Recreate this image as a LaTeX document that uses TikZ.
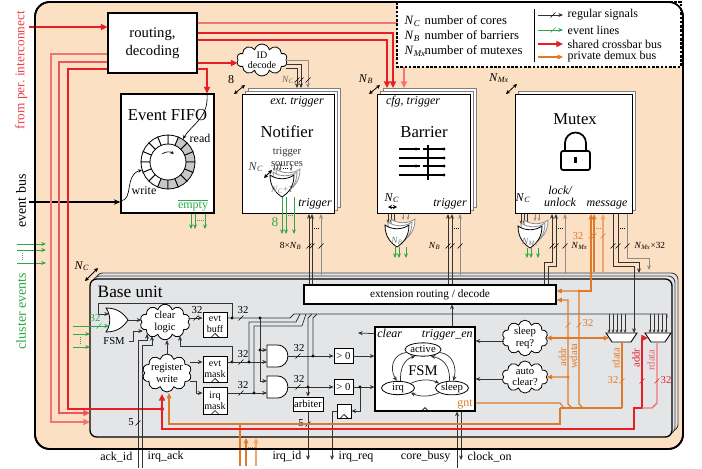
\documentclass[tikz,border=0pt]{standalone}
\usepackage{fontspec}
\setmainfont{Liberation Serif}
\usetikzlibrary{positioning,arrows.meta,shapes.symbols,shapes.geometric}

\definecolor{peach}{RGB}{252,224,196}
\definecolor{bgray}{RGB}{228,229,231}
\definecolor{xred}{RGB}{232,30,38}
\definecolor{xredl}{RGB}{242,118,112}
\definecolor{evgreen}{RGB}{46,168,70}
\definecolor{dorange}{RGB}{224,122,40}
\definecolor{dorangel}{RGB}{238,165,110}

\newcommand{\Nx}[1]{\textit{N}\textsubscript{\textit{#1}}}

\tikzset{
  ft7/.style={font=\fontsize{7}{7.5}\selectfont},
  ft8/.style={font=\fontsize{8}{8.5}\selectfont},
  ft9/.style={font=\fontsize{9}{10}\selectfont},
  ft11/.style={font=\fontsize{11}{13.5}\selectfont},
  ft12/.style={font=\fontsize{12.5}{13}\selectfont},
  itl/.style={font=\fontsize{9}{9.5}\selectfont\itshape},
  orgate/.pic={
    \draw[fill=white, line width=0.6pt] (-10,-12) .. controls (-5,-5) and (-5,5) .. (-10,12)
      .. controls (2,12) and (8,6) .. (12,0) .. controls (8,-6) and (2,-12) .. (-10,-12) -- cycle;
    \coordinate (-in1) at (-7,-6);
    \coordinate (-in2) at (-7,6);
    \coordinate (-out) at (12,0);
  },
  andgate/.pic={
    \draw[fill=white, line width=0.6pt] (-10,-11) -- (0,-11) .. controls (14.5,-11) and (14.5,11) .. (0,11) -- (-10,11) -- cycle;
    \coordinate (-in1) at (-10,-6);
    \coordinate (-in2) at (-10,6);
    \coordinate (-out) at (11,0);
  },
  clk/.pic={\draw[line width=0.5pt] (-4,0) -- (0,-4) -- (4,0);},
  slsh/.pic={\draw[line width=0.45pt] (-2.5,2.5) -- (2.5,-2.5);},
}

\begin{document}
\begin{tikzpicture}[x=0.75pt,y=-0.75pt,
  box/.style={draw, fill=white, line width=0.8pt, inner sep=0pt},
  backbox/.style={draw=black!50, fill=white, line width=0.7pt},
  sig/.style={draw=black!80, line width=0.55pt, -{Stealth[length=3.5pt,width=3pt]}},
  gsig/.style={sig, draw=black!45},
  wire/.style={draw=black!80, line width=0.55pt},
  evl/.style={draw=evgreen, line width=0.75pt, -{Stealth[length=3.5pt,width=3pt]}},
  xbus/.style={draw=xred, line width=1.3pt, -{Triangle[length=5pt,width=4.5pt]}},
  xbusl/.style={xbus, draw=xredl},
  dbus/.style={draw=dorange, line width=0.85pt, -{Triangle[length=4pt,width=3.5pt]}},
  dwire/.style={draw=dorange, line width=0.85pt},
  cld/.style={cloud, cloud puffs=10, cloud ignores aspect, draw, fill=white, line width=0.6pt, inner sep=0pt, align=center, ft8},
  ellst/.style={ellipse, draw, fill=white, inner sep=0pt, line width=0.6pt, ft8},
  dblarr/.style={line width=0.6pt, {Stealth[length=3pt,width=3pt]}-{Stealth[length=3pt,width=3pt]}},
  tip/.style={-{Stealth[length=2.5pt,width=2pt]}},
]
\useasboundingbox (0,0) rectangle (702,468);

% outer frame
\draw[line width=1.3pt, fill=peach, rounded corners=11pt] (35,2) rectangle (683,449);

% side labels
\node[rotate=90, text=xred!85, font=\fontsize{10}{10}\selectfont] (perlbl) at (21,70) {from per.\ interconnect};
\node[rotate=90, font=\fontsize{10.5}{10.5}\selectfont] (evblbl) at (21,201) {event bus};
\node[rotate=90, text=evgreen, font=\fontsize{10.5}{10.5}\selectfont] (clulbl) at (21,311) {cluster events};
\foreach \yy in {244,250,263} \draw[evl] (17,\yy) -- (46,\yy);
\draw[evgreen, densely dotted, line width=0.6pt] (22,253) -- (22,260);

% routing and event FIFO
\node[box, minimum width=66.75pt, minimum height=45pt, ft11, align=center] (route) at (152.5,43) {routing,\\decoding};
\node[cld, minimum width=38pt, minimum height=21pt, font=\fontsize{7.5}{7.5}\selectfont] (idd) at (262,60) {ID\\decode};
\draw[xbus] (29,27) -- (route.west |- 0,27);
\draw[xbusl] (route.east |- 0,23) -| (404,88);
\draw[xbus] (route.east |- 0,33) -| (393,88);
\draw[xbus] (route.east |- 0,40) -| (387,88);
\draw[xbus] (route.east |- 0,63) -- (idd.west |- 0,63);

\node[box, minimum width=69.75pt, minimum height=89.25pt] (fifo) at (167.5,153.5) {};
\node[ft12] (fifottl) at (167.5,115) {Event FIFO};
\begin{scope}[shift={(168,162)}, yscale=-1]
  \foreach \a in {0,...,15}{
    \pgfmathsetmacro\sa{\a*22.5}
    \pgfmathsetmacro\ea{\sa+22.5}
    \pgfmathtruncatemacro\ga{((\sa+11.25)<75 || (\sa+11.25)>245) ? 1 : 0}
    \ifnum\ga=1 \def\fc{black!22}\else\def\fc{white}\fi
    \draw[fill=\fc, line width=0.6pt] (\sa:18) arc[start angle=\sa, end angle=\ea, radius=18]
      -- (\ea:27) arc[start angle=\ea, end angle=\sa, radius=27] -- cycle;
  }
  \draw[line width=0.5pt, -{Stealth[length=2.5pt,width=2.5pt]}] (125:10) arc[start angle=125, end angle=55, radius=10];
\end{scope}
\draw[xbus] (route.east |- 0,69) -| (fifo.north -| 207,0);
\draw[line width=0.5pt, -{Stealth[length=3pt,width=2.5pt]}] (fifo.north -| 207,0) .. controls (209,118) and (192,124) .. (183,139);
\node[ft9] (rdlbl) at (200,138) {read};
\draw[line width=1pt, -{Stealth[length=5pt,width=4pt]}] (29,202) -- (fifo.west |- 0,202);
\draw[line width=0.5pt, -{Stealth[length=3pt,width=2.5pt]}] (fifo.west |- 0,201) .. controls (134,200) and (124,175) .. (142,170);
\node[ft9] (wrlbl) at (144,191) {write};
\node[ft9, text=evgreen] (emlbl) at (193,205) {$\overline{\mbox{empty}}$};
\foreach \xx in {191,195,205} \draw[evl, line width=0.5pt] (fifo.south -| \xx,0) -- (\xx,229);
\draw[evgreen, densely dotted, line width=0.5pt] (197,220) -- (204,220);

% notifier
\draw[backbox] (248,88) rectangle (340,207);
\draw[backbox] (245,91) rectangle (337,210);
\node[box, anchor=north west, minimum width=69pt, minimum height=89.25pt] (notif) at (242,94) {};
\node[itl] (ntext) at (297,102) {ext.\ trigger};
\node[ft12] (nttl) at (287,132) {Notifier};
\node[ft8, align=center, text=black!80] (nsrc) at (287,157) {trigger\\sources};
\node[itl] (ntrg) at (315,204) {trigger};
\foreach \xx in {274,277,280,291} \draw[gsig, draw=black!60, tip] (\xx,164) -- (\xx,171);
\draw[densely dotted] (283,168) -- (288,168);
\pic[color=black!45, rotate=-90] at (288,179) {orgate};
\pic[color=black!45, rotate=-90] at (285,182) {orgate};
\pic[rotate=-90] (ngate) at (282,185) {orgate};
\node[ft7, text=black!50] (ngl) at (282,190) {\Nx{C}+1};
\node[ft9, text=black!75] (nncl) at (256,167) {\Nx{C}};
\draw[dblarr] (264,178) -- (272,170);
\foreach \xx in {282,286,294} \draw[evl] (\xx,197) -- (\xx,234);
\draw[evgreen, densely dotted] (288,215) -- (292,215);
\node[font=\fontsize{10}{10}\selectfont, text=evgreen] (n8) at (275,222) {8};
\draw[sig] (idd.east |- 0,64) -| (301,88);
\draw[sig] (idd.east |- 0,68) -| (297,88);
\draw[gsig] (idd.east |- 0,60) -| (308,88);
\node[ft7, text=black!60] (idnc) at (288,80) {\Nx{C}};
\foreach \xx in {297,301,308} \pic at (\xx,80) {slsh};

% barrier
\draw[backbox] (383,88) rectangle (476,207);
\draw[backbox] (380,91) rectangle (473,210);
\node[box, anchor=north west, minimum width=69.75pt, minimum height=89.25pt] (barr) at (377,94) {};
\node[itl] (bcfg) at (413,102) {cfg, trigger};
\node[ft12] (bttl) at (424,132) {Barrier};
\node[itl] (btrg) at (450,204) {trigger};
\node[ft9] (bncl) at (392,198) {\Nx{C}};
\draw[dblarr, line width=0.4pt] (388,207) -- (397,207);
\draw[line width=0.8pt] (399,149) -- (416,149) (428,149) -- (444,149);
\draw[line width=0.8pt, densely dashed] (416,149) -- (428,149);
\draw[line width=0.8pt] (399,158) -- (444,158);
\draw[line width=0.8pt] (399,166) -- (416,166) (428,166) -- (444,166);
\draw[line width=0.8pt, densely dashed] (416,166) -- (428,166);
\draw[line width=0.8pt] (399,175) -- (444,175);
\draw[line width=2.2pt] (428,145) -- (428,180);
\foreach \yy in {149,158,166,175} \fill (444,\yy) circle (1.6);
\fill (416,149) circle (1.6) (416,166) circle (1.6) (428,158) circle (1.6) (428,175) circle (1.6);
\foreach \xx in {388,391,394} \draw[sig, tip] (barr.south -| \xx,0) -- (\xx,223);
\foreach \xx in {403,408} \draw[gsig, tip] (barr.south -| \xx,0) -- (\xx,220);
\pic[color=black!45, rotate=-90] at (403,229) {orgate};
\pic[color=black!45, rotate=-90] at (400,232) {orgate};
\pic[rotate=-90] (bgate) at (397,235) {orgate};
\node[ft7, text=black!55] (bgl) at (397,241) {\Nx{B}};
\foreach \xx in {395,399,406} \draw[evl, line width=0.6pt] (\xx,247) -- (\xx,258);

% mutex
\draw[backbox] (518,91) rectangle (635,210);
\node[box, anchor=north west, minimum width=87.75pt, minimum height=89.25pt] (mutx) at (515,94) {};
\node[ft12] (mttl) at (575,119) {Mutex};
\draw[line width=1.3pt, rounded corners=1.5pt] (561,151) rectangle (590,170);
\draw[line width=1.3pt] (565,151) -- (565,143) arc[start angle=180, end angle=360, radius=10.5] -- (586,151);
\draw[line width=1.6pt] (575.5,157) -- (575.5,163);
\node[ft9] (mncl) at (523,198) {\Nx{C}};
\node[align=center, font=\fontsize{9}{9}\selectfont\itshape] (mlck) at (560,196) {lock/\\unlock};
\node[itl] (mmsg) at (607,205) {message};
\foreach \xx in {521,524,527} \draw[sig, tip] (mutx.south -| \xx,0) -- (\xx,224);
\foreach \xx in {535,539} \draw[gsig, tip] (mutx.south -| \xx,0) -- (\xx,221);
\pic[color=black!45, rotate=-90] at (536,230) {orgate};
\pic[color=black!45, rotate=-90] at (533,233) {orgate};
\pic[rotate=-90] (mgate) at (530,236) {orgate};
\node[ft7, text=black!55] (mgl) at (530,242) {\Nx{Mx}};
\foreach \xx in {527,531,538} \draw[evl, line width=0.6pt] (\xx,248) -- (\xx,258);

% stack counts
\node[ft9] (s8) at (231,80) {8};
\draw[dblarr] (234,94) -- (245,85);
\node[ft9] (snb) at (366,79) {\Nx{B}};
\draw[dblarr] (369,94) -- (380,85);
\node[ft9] (snm) at (499,78) {\Nx{Mx}};
\draw[dblarr] (506,94) -- (517,84);
\node[ft9] (snc) at (82,266) {\Nx{C}};
\draw[dblarr] (85,281) -- (98,268);

% base unit
\draw[draw=black!75, fill=bgray, line width=0.7pt, rounded corners=5pt] (96,273) rectangle (678,431);
\draw[draw=black!75, fill=bgray, line width=0.7pt, rounded corners=5pt] (93,276) rectangle (675,434);
\draw[line width=1pt, fill=bgray, rounded corners=5pt] (90,279) rectangle (672,437);
\node[anchor=west, font=\fontsize{13}{13}\selectfont] (bulbl) at (93,292) {Base unit};
\node[box, minimum width=189pt, minimum height=14.25pt, font=\fontsize{8.5}{8.5}\selectfont] (extb) at (430,294.5) {extension routing / decode};

% extension lines
\draw[sig] (extb.north -| 309,0) -- (notif.south -| 309,0);
\draw[sig] (extb.north -| 312,0) -- (notif.south -| 312,0);
\draw[gsig] (321,275) -- (notif.south -| 321,0);
\draw[densely dotted] (314,228) -- (319,228);
\foreach \xx in {309,312,321} \pic at (\xx,246) {slsh};
\node[ft7, anchor=east] (n8nb) at (306,246) {8×\Nx{B}};
\draw[sig] (extb.north -| 448,0) -- (barr.south -| 448,0);
\draw[sig] (extb.north -| 452,0) -- (barr.south -| 452,0);
\draw[gsig] (460,275) -- (barr.south -| 460,0);
\draw[densely dotted] (454,228) -- (458,228);
\foreach \xx in {448,452,460} \pic at (\xx,246) {slsh};
\node[ft7, anchor=east] (nnb) at (445,246) {\Nx{B}};
\draw[sig] (extb.north -| 544,0) |- (552,262) -- (mutx.south -| 552,0);
\draw[sig] (extb.north -| 548,0) |- (556,266) -- (mutx.south -| 556,0);
\draw[gsig] (565,274) -- (mutx.south -| 565,0);
\draw[densely dotted] (558,228) -- (563,228);
\foreach \xx in {552,556,565} \pic at (\xx,246) {slsh};
\node[ft7, anchor=west] (nnm) at (567,246) {\Nx{Mx}};
\draw[sig] (mutx.south -| 613,0) |- (634,266) -- (634,333);
\draw[sig] (mutx.south -| 618,0) |- (639,262) -- (639,273);
\draw[gsig] (mutx.south -| 627,0) |- (649,258) -- (649,270);
\draw[densely dotted] (620,228) -- (625,228);
\foreach \xx in {613,618,627} \pic at (\xx,246) {slsh};
\node[ft7, anchor=west] (nnm32) at (630,246) {\Nx{Mx}×32};
\draw[dbus] (594,272) -- (mutx.south -| 594,0);
\draw[dbus, draw=dorangel] (603,272) -- (mutx.south -| 603,0);
\draw[dorange, densely dotted] (596,228) -- (601,228);
\foreach \xx in {591,594,603} \pic[dorange] at (\xx,236) {slsh};
\node[ft8, text=dorange, anchor=east] (m32) at (588,236) {32};

% base unit internals
\pic (ogt) at (116,320) {orgate};
\pic (and1) at (277,356) {andgate};
\pic (and2) at (277,387) {andgate};
\node[cld, minimum width=37.5pt, minimum height=24pt] (clr) at (165,322) {clear\\logic};
\node[cld, minimum width=34.5pt, minimum height=28.5pt] (regw) at (167,373) {register\\write};
\node[box, minimum width=18pt, minimum height=18.75pt, line width=0.7pt, align=center, font=\fontsize{7.5}{8}\selectfont] (ebuf) at (215,324.5) {evt\\buff};
\node[box, minimum width=18pt, minimum height=19.5pt, line width=0.7pt, align=center, font=\fontsize{7.5}{8}\selectfont] (emask) at (215,369) {evt\\mask};
\node[box, minimum width=18pt, minimum height=20.25pt, line width=0.7pt, align=center, font=\fontsize{7.5}{8}\selectfont] (imask) at (215,400.5) {irq\\mask};
\foreach \bb in {ebuf,emask,imask} \pic at (\bb.south) {clk};

\draw[sig] (232,318) |- (98,303) |- (ogt-in1);
\fill (232,318) circle (1.6);
\draw[evl] (73,326) -- (ogt-in2);
\pic[evgreen] at (99,326) {slsh};
\node[ft8, text=evgreen] (g32) at (95,318) {32};
\draw[evl] (73,334) -- (90,334);
\draw[evl] (73,347) -- (90,347);
\draw[evgreen, densely dotted] (80,337) -- (80,344);
\node[ft8] (fsmin) at (114,341) {FSM};
\draw[sig] (fsmin.east) -| (133,331) -- (143,331);
\draw[sig] (ogt-out) -- (clr.west |- ogt-out);
\draw[sig] (clr.east |- 0,318) -- (ebuf.west |- 0,318);
\pic at (196,318) {slsh};
\node[ft8] (c32) at (197,310) {32};
\draw[sig] (regw.north) -- (regw.north |- clr.south);
\draw[sig] (regw.east |- 0,362) -- (emask.west |- 0,362);
\draw[sig] (regw.east |- 0,381) -| (196,393) -- (imask.west |- 0,393);
\fill (232,362) circle (1.6);
\draw[sig] (232,362) |- (180,346) -- (180,336);

% register read bus
\draw[wire] (ebuf.east |- 0,318) -- (290,318) -- (294,314) -- (667,314) -- (667,318);
\pic at (241,318) {slsh}; \node[ft8] (e32) at (243,310) {32};
\pic at (241,362) {slsh}; \node[ft8] (m32b) at (243,354) {32};
\pic at (241,393) {slsh}; \node[ft8] (i32) at (243,385) {32};
\fill (260,318) circle (1.6);
\draw[sig] (260,318) |- (and1-in1);
\fill (260,350) circle (1.6);
\draw[sig] (260,350) |- (and2-in1);
\draw[sig] (emask.east |- 0,362) -- (and1-in2);
\fill (249,362) circle (1.6);
\draw[wire] (249,362) -- (249,322) -- (296,322) -- (300,314);
\draw[sig] (imask.east |- 0,393) -- (and2-in2);
\fill (254,393) circle (1.6);
\draw[wire] (254,393) -- (254,326) -- (302,326) -- (306,314);

\node[box, minimum width=14.25pt, minimum height=11.25pt, ft8, line width=0.7pt] (gt1) at (343.5,356) {> 0};
\node[box, minimum width=14.25pt, minimum height=11.25pt, ft8, line width=0.7pt] (gt2) at (343.5,387) {> 0};
\draw[sig] (and1-out) -- (gt1.west |- and1-out);
\draw[sig] (and2-out) -- (gt2.west |- and2-out);
\pic at (298,356) {slsh}; \node[ft8] (a32) at (299,348) {32};
\pic at (298,387) {slsh}; \node[ft8] (b32) at (299,379) {32};
\fill (313,356) circle (1.6);
\draw[wire] (313,356) -- (313,318) -- (317,314);
\fill (308,387) circle (1.6);
\draw[wire] (308,387) -- (308,318) -- (312,314);
\node[box, minimum width=22.5pt, minimum height=10.5pt, ft8, line width=0.7pt] (arb) at (308,404) {arbiter};
\draw[sig] (308,387) -- (arb.north);
\draw[sig] (arb.south) -- (308,460);
\pic at (308,424) {slsh}; \node[ft8] (arb5) at (301,423) {5};

% FSM
\node[box, minimum width=75pt, minimum height=63pt] (fsm) at (425,369) {};
\draw[sig] (gt1.east) -- (fsm.west |- gt1.east);
\draw[sig] (gt2.east) -- (fsm.west |- gt2.east);
\node[box, minimum width=10.5pt, minimum height=10.5pt, line width=0.7pt] (ff) at (344,411) {};
\pic at (ff.south) {clk};
\fill (360,387) circle (1.6);
\draw[sig] (360,387) |- (ff.east);
\draw[sig] (ff.west) -| (332,460);
\node[ellst, minimum width=24.75pt, minimum height=10pt] (sact) at (423,349.5) {active};
\node[ellst, minimum width=24.75pt, minimum height=10pt] (sirq) at (398,388) {irq};
\node[ellst, minimum width=24.75pt, minimum height=10pt] (sslp) at (452,388) {sleep};
\node[ft11] (fsmttl) at (423,371) {FSM};
\draw[sig] (sact.190) .. controls (393,354) and (389,368) .. (sirq.100);
\draw[sig] (sirq.70) .. controls (400,370) and (403,360) .. (sact.220);
\draw[sig] (sact.350) .. controls (453,354) and (457,368) .. (sslp.80);
\draw[sig] (sslp.110) .. controls (450,370) and (447,360) .. (sact.320);
\draw[sig] (sirq.20) .. controls (420,379) and (430,379) .. (sslp.160);
\draw[sig] (sslp.200) .. controls (430,397) and (420,397) .. (sirq.340);
\pic at (fsm.south) {clk};
\node[itl, anchor=north west, inner sep=2pt] (fclr) at (fsm.north west) {clear};
\node[itl, anchor=north east, inner sep=2pt] (ftrg) at (fsm.north east) {trigger\_en};
\node[ft9, text=dorange, anchor=south east, inner sep=2pt] (fgnt) at (fsm.south east) {gnt};
\draw[sig] (fsm.west |- fclr) -- (358,333);
\draw[sig] (fsm.north -| 452,0) -- (extb.south -| 452,0);
\draw[sig] (457,468) -- (fsm.south -| 457,0);
\draw[sig] (fsm.south -| 461,0) -- (461,460);

% sleep / auto clear
\node[cld, minimum width=34.5pt, minimum height=22.5pt] (slp) at (525,338) {sleep\\req?};
\node[cld, minimum width=34.5pt, minimum height=22.5pt] (acl) at (525,377) {auto\\clear?};
\draw[sig] (slp.west |- 0,341) -- (fsm.east |- 0,341);
\draw[sig] (acl.west |- 0,379) -- (fsm.east |- 0,379);

% muxes
\foreach \xx in {609,613,617,621,625} \draw[sig, tip] (\xx,314) -- (\xx,333);
\foreach \xx in {650,654,658,662,666} \draw[sig, tip] (\xx,314) -- (\xx,333);
\draw[fill=white, line width=0.7pt] (606,333) -- (637,333) -- (631,342) -- (612,342) -- cycle;
\draw[fill=white, line width=0.7pt] (645,333) -- (671,333) -- (665,342) -- (651,342) -- cycle;
\coordinate (lmuxw) at (609,338);
\coordinate (rmuxw) at (648,338);

% private demux bus
\draw[dwire] (fsm.east |- 0,403) -- (560,403) -- (564,408);
\draw[dwire] (560,408) -- (622,408);
\draw[dbus] (572,408) -- (568,404) -- (568,300) -- (extb.east |- 0,300);
\draw[dbus] (583,408) -- (579,404) -- (579,291) -- (extb.east |- 0,291);
\fill[dorange] (579,291) circle (1.6);
\draw[dbus] (579,291) -- (591,291) -- (mutx.south -| 591,0);
\draw[dbus, {Triangle[length=4pt,width=3.5pt]}-{Triangle[length=4pt,width=3.5pt]}] (slp.east |- lmuxw) -- (lmuxw);
\fill[dorange] (568,338) circle (1.6);
\draw[dbus] (568,377) -- (acl.east);
\fill[dorange] (568,377) circle (1.6);
\draw[dwire] (622,342) -- (622,408);
\node[ft8, text=dorange, rotate=90] (oaddr) at (562.5,357) {addr};
\node[ft8, text=dorange, rotate=90] (owdt) at (573.5,356) {wdata};
\node[ft8, text=dorange, rotate=90] (ordt) at (616,358) {rdata};
\pic[dorange] at (568,325) {slsh}; \pic[dorange] at (579,325) {slsh};
\node[ft8, text=dorange] (o32a) at (588,323) {32};
\pic[dorange] at (622,381) {slsh};
\node[ft8, text=dorange] (o32b) at (613,380) {32};
\draw[dbus] (560,408) -- (560,424) -- (169,424) -- (169,393);
\draw[dwire] (240,466) -- (240,424);
\fill[dorange] (240,424) circle (1.6);
\draw[dbus] (246,466) -- (246,438);
\draw[dbus, draw=dorangel] (256,466) -- (256,438);
\draw[dorange, densely dotted] (248,447) -- (254,447);

% shared crossbar bus
\draw[xbusl] (route.west |- 0,54) -| (51,422) -- (90,422);
\draw[xbus, draw=xred!75] (route.west |- 0,62) -| (59,413) -- (90,413);
\draw[xbus] (route.west |- 0,69) -| (68,409) -- (162,409) -- (162,394);
\fill[xred] (162,409) circle (2);
\draw[xbus, line width=1.1pt] (162,409) -- (162,429) -- (634,429) -- (634,408) -- (642,408) -- (642,338) -- (rmuxw);
\draw[xred!60, line width=1.1pt] (657,342) -- (657,403) -- (652,408) -- (642,408);
\node[ft8, text=xred, rotate=90] (raddr) at (636,358) {addr};
\node[ft8, text=xred!70, rotate=90] (rrdt) at (651,360) {rdata};
\pic[xred] at (642,381) {slsh}; \pic[xred] at (657,381) {slsh};
\node[ft8, text=xred] (r32) at (666,380) {32};

% core interface
\draw[sig] (138,468) |- (147,340) -- (147,334);
\draw[sig] (142,468) |- (152,345) -- (152,336);
\pic at (138,423) {slsh}; \node[ft8] (ak5) at (131,422) {5};
\node[ft9, anchor=east] (lak) at (137,457) {ack\_id};
\node[ft9, anchor=west] (lia) at (143,457) {irq\_ack};
\node[ft9, anchor=east] (liid) at (306,457) {irq\_id};
\node[ft9, anchor=west] (lirq) at (334,457) {irq\_req};
\node[ft9, anchor=east] (lcb) at (455,457) {core\_busy};
\node[ft9, anchor=west] (lco) at (463,457) {clock\_on};

% legend
\draw[line width=0.8pt, dash pattern=on 2pt off 1.2pt, fill=white] (397,2) rectangle (681,67);
\draw[line width=0.6pt] (534,9) -- (534,62);
\node[anchor=west, font=\fontsize{9.5}{10}\selectfont] (lgnc) at (400,21) {\makebox[15pt][l]{\Nx{C}}number of cores};
\node[anchor=west, font=\fontsize{9.5}{10}\selectfont] (lgnb) at (400,36) {\makebox[15pt][l]{\Nx{B}}number of barriers};
\node[anchor=west, font=\fontsize{9.5}{10}\selectfont] (lgnm) at (400,51) {\makebox[15pt][l]{\Nx{Mx}}number of mutexes};
\node[anchor=west, ft9] (lgrs) at (563,15) {regular signals};
\draw[sig] (538,15) -- (lgrs.west); \pic at (553,15) {slsh};
\node[anchor=west, ft9] (lgev) at (563,30) {event lines};
\draw[evl] (538,30) -- (lgev.west); \pic[evgreen] at (553,30) {slsh};
\node[anchor=west, ft9] (lgxb) at (563,44) {shared crossbar bus};
\draw[xbus] (538,44) -- (lgxb.west);
\node[anchor=west, ft9] (lgdb) at (563,57) {private demux bus};
\draw[dbus] (538,57) -- (lgdb.west);

\draw[line width=1.3pt, rounded corners=11pt] (35,2) rectangle (683,449);
\end{tikzpicture}
\end{document}
